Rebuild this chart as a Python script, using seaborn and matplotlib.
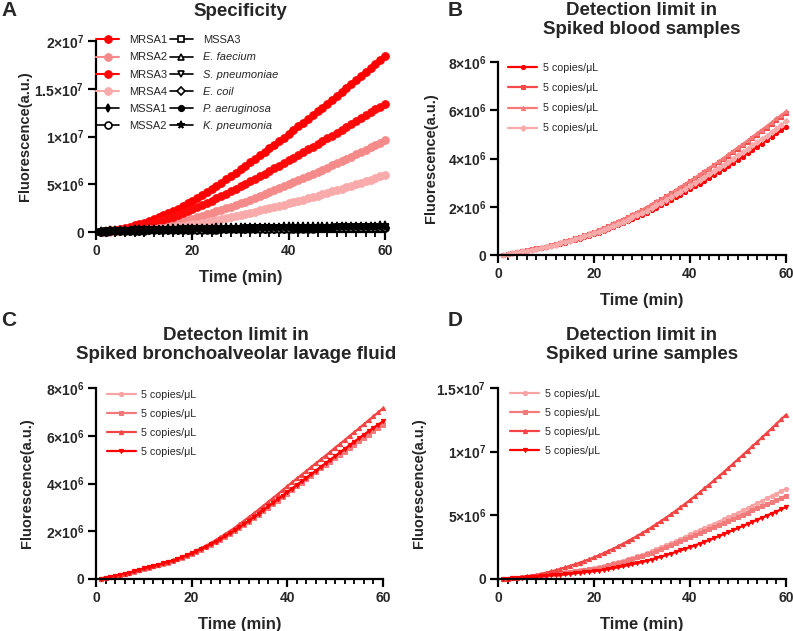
import matplotlib
matplotlib.use("Agg")
import matplotlib.pyplot as plt
import seaborn as sns
from matplotlib.ticker import FixedLocator, FixedFormatter, MultipleLocator

# ---------------- data ----------------
time_min = list(range(1, 61))
U5 = 1e5   # red series stored in units of 1e5
U4 = 1e4   # black series stored in units of 1e4

# Panel A (Specificity)
a_labels = ["MRSA1", "MRSA2", "MRSA3", "MRSA4", "MSSA1", "MSSA2",
            "MSSA3", "E. faecium", "S. pneumoniae", "E. coil", "P. aeruginosa", "K. pneumonia"]
a_italic = [False] * 6 + [False, True, True, True, True, True]

mrsa1 = [0.5,1.1,1.8,2.6,3.5,4.5,5.6,6.9,8.3,9.8,11.5,13.4,15.4,17.5,19.7,22.1,24.6,27.2,29.9,32.8,
         35.7,38.8,41.9,45.1,48.4,51.7,55.1,58.6,62.1,65.6,69.2,72.8,76.5,80.2,83.9,87.6,91.3,95.1,98.9,102.7,
         106.6,110.5,114.4,118.3,122.3,126.3,130.3,134.3,138.3,142.4,146.5,150.6,154.7,158.9,163.1,167.3,171.5,175.7,180.0,184.3]
mrsa2 = [0.2,0.45,0.75,1.1,1.5,1.95,2.45,2.95,3.45,4.0,4.7,5.5,6.35,7.25,8.25,9.3,10.4,11.55,12.75,14.0,
         15.4,16.85,18.35,19.9,21.5,23.1,24.75,26.45,28.2,30.0,31.85,33.75,35.65,37.6,39.6,41.6,43.65,45.75,47.85,50.0,
         52.1,54.22,56.37,58.55,60.75,62.95,65.17,67.42,69.7,72.0,74.3,76.62,78.97,81.35,83.75,86.15,88.57,91.02,93.5,96.0]
mrsa3 = [0.4,0.8,1.3,1.9,2.6,3.3,4.1,5.0,6.1,7.2,8.4,9.8,11.2,12.8,14.4,16.1,18.0,19.9,21.8,23.9,
         26.1,28.3,30.6,32.9,35.3,37.7,40.2,42.8,45.3,47.9,50.5,53.1,55.8,58.5,61.2,63.9,66.6,69.4,72.2,75.0,
         77.8,80.7,83.5,86.4,89.3,92.2,95.1,98.0,101.0,104.0,107.0,109.9,112.9,116.0,119.1,122.1,125.2,128.3,131.4,134.5]
mrsa4 = [0.1,0.25,0.45,0.65,0.9,1.2,1.5,1.8,2.15,2.5,2.9,3.35,3.85,4.35,4.9,5.45,6.05,6.65,7.3,8.0,
         8.85,9.75,10.7,11.65,12.65,13.65,14.7,15.75,16.85,18.0,19.1,20.22,21.37,22.55,23.75,24.95,26.17,27.42,28.7,30.0,
         31.3,32.62,33.97,35.35,36.75,38.15,39.57,41.02,42.5,44.0,45.5,47.02,48.57,50.15,51.75,53.35,54.97,56.62,58.3,60.0]
mssa1 = [3,5,7,9,11,12,14,15,16,17,18,19,20,21,22,23,24,25,26,27,27,28,29,30,30,31,32,32,33,34,
         34,35,35,36,37,37,38,38,39,39,40,40,41,41,42,42,42,43,43,44,44,44,45,45,45,46,46,46,47,47]
mssa2 = [2,4,6,8,9,11,12,13,14,15,16,17,18,19,19,20,21,22,22,23,24,24,25,26,26,27,27,28,29,29,
         30,30,31,31,32,32,33,33,34,34,35,35,35,36,36,37,37,37,38,38,38,39,39,39,40,40,40,41,41,41]
mssa3 = [3,6,8,10,12,14,15,17,18,19,20,21,22,23,24,25,26,27,28,29,30,30,31,32,33,34,34,35,36,36,
         37,38,38,39,40,40,41,41,42,43,43,44,44,45,45,46,46,47,47,48,48,48,49,49,50,50,50,51,51,52]
e_faecium = [2,5,7,10,12,14,16,17,19,20,21,23,24,25,26,27,28,29,30,31,32,33,34,35,36,36,37,38,39,40,
             40,41,42,42,43,44,44,45,46,46,47,47,48,49,49,50,50,51,51,52,52,53,53,54,54,55,55,56,56,57]
s_pneumoniae = [3,5,8,10,12,13,15,16,17,18,19,20,21,22,23,24,25,26,27,28,29,29,30,31,32,32,33,34,34,35,
                36,36,37,37,38,39,39,40,40,41,41,42,42,43,43,44,44,45,45,46,46,46,47,47,48,48,48,49,49,50]
e_coil = [2,4,6,8,10,11,13,14,15,16,17,18,19,20,21,21,22,23,24,25,25,26,27,27,28,29,29,30,30,31,
          32,32,33,33,34,34,35,35,36,36,37,37,38,38,38,39,39,40,40,40,41,41,41,42,42,42,43,43,43,44]
p_aeruginosa = [4,7,10,13,15,17,19,21,22,24,25,27,28,29,30,32,33,34,35,36,37,38,39,40,40,41,42,43,44,45,
                45,46,47,48,48,49,50,50,51,52,52,53,54,54,55,55,56,57,57,58,58,59,59,60,60,61,61,62,62,63]
k_pneumonia = [8,12,16,19,22,24,26,28,29,31,32,34,35,36,38,39,40,41,42,43,44,45,46,47,48,48,49,50,51,52,
               52,53,54,55,55,56,57,57,58,59,59,60,60,61,62,62,63,63,64,64,65,65,66,66,67,67,68,68,69,70]

# Panel B (blood)
b_s1 = [0.2,0.5,0.8,1.1,1.4,1.7,2.1,2.4,2.8,3.2,3.6,4.1,4.6,5.1,5.6,6.2,6.8,7.4,8.0,8.7,
        9.3,10.0,10.8,11.5,12.3,13.1,14.0,14.8,15.7,16.6,17.6,18.6,19.6,20.7,21.7,22.8,23.9,25.0,26.1,27.3,
        28.4,29.6,30.8,32.0,33.2,34.4,35.7,36.9,38.2,39.5,40.8,42.1,43.5,44.8,46.2,47.6,49.0,50.4,51.7,53.0]
b_s2 = [0.2,0.5,0.9,1.2,1.6,1.9,2.3,2.7,3.1,3.5,4.0,4.5,5.1,5.7,6.3,6.9,7.5,8.1,8.8,9.5,
        10.3,11.1,12.0,12.9,13.8,14.7,15.6,16.5,17.5,18.5,19.6,20.7,21.9,23.1,24.3,25.5,26.7,27.9,29.2,30.5,
        31.8,33.1,34.4,35.7,37.1,38.4,39.8,41.2,42.6,44.0,45.4,46.9,48.3,49.8,51.3,52.8,54.3,55.9,57.4,59.0]
b_s3 = [0.2,0.5,0.9,1.2,1.6,2.0,2.3,2.7,3.2,3.6,4.1,4.6,5.2,5.8,6.4,7.0,7.6,8.3,9.0,9.7,
        10.5,11.3,12.2,13.1,14.0,14.9,15.8,16.8,17.8,18.8,19.9,21.0,22.2,23.3,24.5,25.7,27.0,28.2,29.5,30.8,
        32.1,33.4,34.8,36.1,37.5,38.9,40.3,41.7,43.2,44.6,46.0,47.5,49.0,50.5,52.0,53.5,55.0,56.6,58.0,59.5]
b_s4 = [0.2,0.5,0.8,1.1,1.5,1.8,2.2,2.5,2.9,3.3,3.8,4.3,4.8,5.3,5.9,6.5,7.1,7.7,8.3,9.0,
        9.7,10.5,11.3,12.1,12.9,13.8,14.7,15.6,16.5,17.4,18.4,19.5,20.6,21.7,22.8,24.0,25.1,26.3,27.5,28.7,
        29.9,31.1,32.4,33.6,34.9,36.1,37.4,38.7,40.0,41.4,42.7,44.0,45.4,46.8,48.1,49.5,50.9,52.3,53.9,55.5]

# Panel C (BALF)
c_s1 = [0.2,0.6,1.0,1.4,1.8,2.3,2.7,3.2,3.8,4.4,4.9,5.4,5.9,6.4,7.0,7.6,8.3,9.0,9.8,10.6,
        11.5,12.4,13.4,14.4,15.5,16.6,17.8,19.0,20.3,21.6,23.0,24.4,25.8,27.3,28.8,30.3,31.8,33.3,34.8,36.3,
        37.8,39.3,40.8,42.3,43.8,45.3,46.8,48.3,49.8,51.3,52.8,54.3,55.8,57.2,58.7,60.1,61.6,63.0,64.3,65.5]
c_s2 = [0.1,0.5,0.9,1.3,1.7,2.2,2.6,3.1,3.7,4.3,4.8,5.3,5.8,6.3,6.9,7.5,8.2,8.9,9.6,10.4,
        11.3,12.2,13.2,14.2,15.3,16.4,17.5,18.7,20.0,21.3,22.6,24.0,25.4,26.9,28.3,29.8,31.3,32.8,34.3,35.8,
        37.3,38.8,40.3,41.8,43.3,44.8,46.3,47.8,49.2,50.6,52.0,53.4,54.8,56.2,57.6,59.0,60.4,61.8,63.2,64.5]
c_s3 = [0.2,0.6,1.0,1.4,1.8,2.3,2.7,3.2,3.8,4.5,5.0,5.5,6.0,6.6,7.2,7.8,8.5,9.3,10.1,11.0,
        11.9,12.9,14.0,15.1,16.3,17.5,18.8,20.1,21.5,23.0,24.5,26.0,27.5,29.1,30.7,32.3,33.9,35.5,37.2,38.9,
        40.5,42.1,43.7,45.3,46.9,48.5,50.1,51.7,53.3,55.0,56.6,58.2,59.9,61.5,63.1,64.8,66.5,68.1,69.8,71.5]
c_s4 = [0.2,0.6,1.0,1.4,1.8,2.3,2.7,3.2,3.8,4.4,4.9,5.4,6.0,6.5,7.1,7.7,8.4,9.1,9.9,10.7,
        11.6,12.5,13.5,14.5,15.6,16.7,17.9,19.1,20.4,21.7,23.1,24.5,26.0,27.4,28.9,30.4,31.9,33.4,34.9,36.4,
        37.9,39.4,40.9,42.4,43.9,45.4,47.0,48.5,50.0,51.5,53.0,54.5,56.0,57.5,59.0,60.4,61.9,63.3,64.7,66.0]

# Panel D (urine)
d_s1 = [0.1,0.3,0.6,0.9,1.3,1.7,2.1,2.5,3.0,3.5,4.0,4.4,4.9,5.3,5.8,6.2,6.7,7.2,7.8,8.5,
        9.3,10.2,11.2,12.2,13.3,14.4,15.5,16.6,17.8,19.0,20.4,21.9,23.4,24.9,26.5,28.1,29.8,31.5,33.2,35.0,
        36.6,38.3,40.0,41.7,43.4,45.1,46.8,48.5,50.2,52.0,53.8,55.7,57.6,59.5,61.4,63.3,65.2,67.1,69.0,71.0]
d_s2 = [0.1,0.3,0.5,0.8,1.2,1.6,2.0,2.4,2.8,3.3,3.7,4.2,4.6,5.1,5.5,6.0,6.5,7.0,7.6,8.2,
        9.0,9.8,10.7,11.6,12.6,13.6,14.7,15.8,16.9,18.0,19.3,20.7,22.1,23.5,25.0,26.5,28.0,29.6,31.2,32.8,
        34.4,36.0,37.6,39.2,40.8,42.4,44.0,45.6,47.2,48.8,50.5,52.2,53.9,55.5,57.2,58.8,60.5,62.1,63.8,65.5]
d_s3 = [0.1,0.3,0.6,1.0,1.5,2.0,2.6,3.3,4.1,5.0,5.9,6.9,8.0,9.1,10.3,11.5,12.8,14.1,15.5,17.0,
        18.6,20.3,22.0,23.8,25.7,27.6,29.6,31.7,33.8,36.0,38.3,40.7,43.1,45.6,48.2,50.8,53.5,56.3,59.1,62.0,
        65.0,68.0,71.1,74.2,77.4,80.6,83.9,87.2,90.6,94.0,97.4,100.8,104.2,107.7,111.2,114.7,118.2,121.8,125.4,129.0]
d_s4 = [0.1,0.2,0.4,0.7,1.0,1.3,1.6,1.9,2.2,2.6,2.9,3.2,3.5,3.8,4.1,4.5,4.9,5.3,5.7,6.1,
        6.6,7.2,7.8,8.5,9.2,10.0,10.8,11.6,12.4,13.3,14.3,15.3,16.4,17.5,18.7,19.9,21.1,22.4,23.7,25.0,
        26.3,27.7,29.1,30.6,32.1,33.6,35.2,36.8,38.4,40.0,41.6,43.2,44.9,46.5,48.1,49.7,51.4,53.0,54.7,56.5]

conc_label = "5 copies/μL"

# tick labels
a_yticks = [0, 5e6, 1e7, 1.5e7, 2e7]
a_yticklabels = ["0", "5×10$^{6}$", "1×10$^{7}$", "1.5×10$^{7}$", "2×10$^{7}$"]
bc_yticks = [0, 2e6, 4e6, 6e6, 8e6]
bc_yticklabels = ["0", "2×10$^{6}$", "4×10$^{6}$", "6×10$^{6}$", "8×10$^{6}$"]
d_yticks = [0, 5e6, 1e7, 1.5e7]
d_yticklabels = ["0", "5×10$^{6}$", "1×10$^{7}$", "1.5×10$^{7}$"]
xticks = [0, 20, 40, 60]

# ---------------- style ----------------
sns.set_theme(style="ticks")
plt.rcParams["font.family"] = ["Liberation Sans", "DejaVu Sans"]
plt.rcParams["mathtext.fontset"] = "custom"
plt.rcParams["mathtext.rm"] = "Liberation Sans:bold"
plt.rcParams["mathtext.it"] = "Liberation Sans:italic:bold"
plt.rcParams["mathtext.bf"] = "Liberation Sans:bold"

fig = plt.figure(figsize=(7.93, 6.31), dpi=100)
W, H = 793.0, 631.0


def make_ax(x0, x1, ytop, ybot):
    return fig.add_axes([x0 / W, 1 - ybot / H, (x1 - x0) / W, (ybot - ytop) / H])


def style_ax(ax, ymax, yticks, yticklabels, ylab_x):
    ax.set_xlim(0, 60)
    ax.set_ylim(0, ymax)
    for s in ["top", "right"]:
        ax.spines[s].set_visible(False)
    for s in ["left", "bottom"]:
        ax.spines[s].set_linewidth(1.6)
        ax.spines[s].set_color("black")
    ax.xaxis.set_major_locator(FixedLocator(xticks))
    ax.xaxis.set_minor_locator(MultipleLocator(2))
    ax.yaxis.set_major_locator(FixedLocator(yticks))
    ax.yaxis.set_major_formatter(FixedFormatter(yticklabels))
    ax.tick_params(axis="both", which="major", length=5.5, width=1.6, color="black",
                   labelsize=10, pad=3)
    ax.tick_params(axis="x", which="minor", length=3.5, width=1.3, color="black")
    for lab in ax.get_xticklabels() + ax.get_yticklabels():
        lab.set_fontweight("bold")
    ax.set_xlabel("Time (min)", fontsize=12, fontweight="bold", labelpad=9)
    ax.set_ylabel("Fluorescence(a.u.)", fontsize=10.5, fontweight="bold")
    ax.yaxis.set_label_coords(ylab_x, 0.5)
    ax.grid(False)


# ---------------- Panel A ----------------
axA = make_ax(96, 385, 41, 232)
a_series = [mrsa1, mrsa2, mrsa3, mrsa4]
a_colors = ["#ff0000", "#f58a8a", "#ff0a0a", "#f9aaaa"]
for vals, col, lab in zip(a_series, a_colors, a_labels[:4]):
    sns.lineplot(x=time_min, y=[v * U5 for v in vals], ax=axA, color=col, marker="o",
                 markersize=5.5, markeredgecolor=col, markerfacecolor=col, linewidth=1.5,
                 label=lab, clip_on=False, zorder=3)
black_series = [mssa1, mssa2, mssa3, e_faecium, s_pneumoniae, e_coil, p_aeruginosa, k_pneumonia]
black_markers = ["d", "o", "s", "^", "v", "D", "o", "*"]
black_faces = ["black", "white", "white", "white", "white", "white", "black", "black"]
black_sizes = [4, 5, 5, 5, 5, 4.5, 4, 5.5]
for vals, mk, fc, ms, lab in zip(black_series, black_markers, black_faces, black_sizes, a_labels[4:]):
    sns.lineplot(x=time_min, y=[v * U4 for v in vals], ax=axA, color="black", marker=mk,
                 markersize=ms, markeredgecolor="black", markerfacecolor=fc, markeredgewidth=1.2,
                 linewidth=1.2, label=lab, clip_on=False, zorder=4)
style_ax(axA, 2e7, a_yticks, a_yticklabels, -0.222)
legA = axA.legend(ncol=2, loc="upper left", bbox_to_anchor=(0.0, 1.03), frameon=False,
                  fontsize=8, handlelength=2.1, handletextpad=0.9, labelspacing=0.65,
                  columnspacing=0.2, borderaxespad=0, borderpad=0)
for t, it in zip(legA.get_texts(), a_italic):
    if it:
        t.set_fontstyle("italic")

# ---------------- Panel B ----------------
axB = make_ax(498, 786, 62, 255)
b_series = [b_s1, b_s2, b_s3, b_s4]
b_colors = ["#ff0000", "#f44a4a", "#f57a7a", "#f9abab"]
b_markers = ["o", "s", "^", "D"]
for vals, col, mk in zip(b_series, b_colors, b_markers):
    sns.lineplot(x=time_min, y=[v * U5 for v in vals], ax=axB, color=col, marker=mk,
                 markersize=3, markeredgecolor=col, markerfacecolor=col, linewidth=1.6,
                 label=conc_label, clip_on=False)
style_ax(axB, 8e6, bc_yticks, bc_yticklabels, -0.21)
axB.legend(loc="upper left", bbox_to_anchor=(0.035, 0.995), frameon=False, fontsize=7.7,
           handlelength=2.7, handletextpad=0.6, labelspacing=0.95, borderaxespad=0, borderpad=0)

# ---------------- Panel C ----------------
axC = make_ax(96, 383, 388, 579)
c_series = [c_s1, c_s2, c_s3, c_s4]
c_colors = ["#f8a4a4", "#f27a7a", "#f24444", "#ff0000"]
c_markers = ["o", "s", "^", "v"]
for vals, col, mk in zip(c_series, c_colors, c_markers):
    sns.lineplot(x=time_min, y=[v * U5 for v in vals], ax=axC, color=col, marker=mk,
                 markersize=3, markeredgecolor=col, markerfacecolor=col, linewidth=1.6,
                 label=conc_label, clip_on=False)
style_ax(axC, 8e6, bc_yticks, bc_yticklabels, -0.215)
axC.legend(loc="upper left", bbox_to_anchor=(0.038, 0.99), frameon=False, fontsize=7.7,
           handlelength=2.7, handletextpad=0.5, labelspacing=0.85, borderaxespad=0, borderpad=0)

# ---------------- Panel D ----------------
axD = make_ax(498, 786, 388, 579)
d_series = [d_s1, d_s2, d_s3, d_s4]
for vals, col, mk in zip(d_series, c_colors, c_markers):
    sns.lineplot(x=time_min, y=[v * U5 for v in vals], ax=axD, color=col, marker=mk,
                 markersize=3, markeredgecolor=col, markerfacecolor=col, linewidth=1.6,
                 label=conc_label, clip_on=False)
style_ax(axD, 1.5e7, d_yticks, d_yticklabels, -0.25)
axD.legend(loc="upper left", bbox_to_anchor=(0.042, 0.995), frameon=False, fontsize=7.7,
           handlelength=2.7, handletextpad=0.6, labelspacing=0.85, borderaxespad=0, borderpad=0)

# ---------------- titles & panel letters ----------------
title_kw = dict(ha="center", va="center", fontsize=13.5, fontweight="bold", linespacing=1.15)
fig.text(240 / W, 1 - 11 / H, "Specificity", **title_kw)
fig.text(642 / W, 1 - 20 / H, "Detection limit in\nSpiked blood samples", **title_kw)
fig.text(236 / W, 1 - 345 / H, "Detecton limit in\nSpiked bronchoalveolar lavage fluid", **title_kw)
fig.text(642 / W, 1 - 345 / H, "Detection limit in\nSpiked urine samples", **title_kw)

letter_kw = dict(ha="center", va="center", fontsize=15, fontweight="bold")
fig.text(9 / W, 1 - 10 / H, "A", **letter_kw)
fig.text(455 / W, 1 - 10 / H, "B", **letter_kw)
fig.text(9 / W, 1 - 320 / H, "C", **letter_kw)
fig.text(455 / W, 1 - 320 / H, "D", **letter_kw)

fig.savefig("out.png", dpi=100)
